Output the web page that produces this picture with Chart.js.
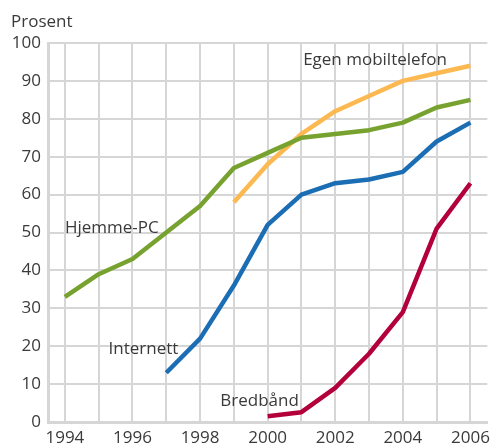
<!DOCTYPE html>
<html>
<head>
<meta charset="utf-8">
<script src="https://cdn.jsdelivr.net/npm/chart.js@4.4.0/dist/chart.umd.min.js"></script>
<style>
  html, body { margin: 0; padding: 0; background: #fff; }
  #wrap { width: 496px; height: 448px; }
</style>
</head>
<body>
<div id="wrap"><canvas id="chart" width="496" height="448"></canvas></div>
<script>
// --- DATA ---
const years = [1994, 1995, 1996, 1997, 1998, 1999, 2000, 2001, 2002, 2003, 2004, 2005, 2006];
const hjemmePc = [33, 39, 43, 50, 57, 67, 71, 75, 76, 77, 79, 83, 85];
const internett = [null, null, null, 13, 22, 36, 52, 60, 63, 64, 66, 74, 79];
const mobil = [null, null, null, null, null, 58, 68, 76, 82, 86, 90, 92, 94];
const bredband = [null, null, null, null, null, null, 1.5, 2.6, 9, 18, 29, 51, 63];
const yTicks = [0, 10, 20, 30, 40, 50, 60, 70, 80, 90, 100];

const FONT = '"Open Sans", "DejaVu Sans", sans-serif';
const TEXT = '#3a3a3a';
const GRID = '#d6d6d6';

function pts(vals) {
    return years.map((y, i) => ({ x: y, y: vals[i] })).filter(p => p.y !== null);
}

// series name labels, baseline placed at data coordinates
const seriesLabels = [
    { text: 'Egen mobiltelefon', x: 2001.05, y: 94.2 },
    { text: 'Hjemme-PC', x: 1994.0, y: 49.9 },
    { text: 'Internett', x: 1995.29, y: 17.9 },
    { text: 'Bredbånd', x: 1998.6, y: 4.2 }
];

const labelPlugin = {
    id: 'labels',
    afterDraw(chart) {
        const c = chart.ctx;
        const xs = chart.scales.x, ys = chart.scales.y;
        c.save();
        c.fillStyle = TEXT;
        c.font = '17px ' + FONT;
        c.textBaseline = 'alphabetic';
        c.textAlign = 'left';
        seriesLabels.forEach(l => c.fillText(l.text, xs.getPixelForValue(l.x), ys.getPixelForValue(l.y)));
        c.fillText('Prosent', 11, 27);
        c.restore();
    }
};

const ds = (label, data, color) => ({
    label, data: pts(data), borderColor: color, borderWidth: 4.5,
    pointRadius: 0, fill: false, tension: 0, borderCapStyle: 'butt', borderJoinStyle: 'round'
});

new Chart(document.getElementById('chart'), {
    type: 'line',
    data: {
        datasets: [
            ds('Hjemme-PC', hjemmePc, '#78a22f'),
            ds('Egen mobiltelefon', mobil, '#fdb951'),
            ds('Internett', internett, '#1b6db4'),
            ds('Bredbånd', bredband, '#b3003b')
        ]
    },
    options: {
        responsive: false,
        animation: false,
        layout: { padding: { top: 43, right: 4, left: 0, bottom: 0 } },
        plugins: { legend: { display: false }, tooltip: { enabled: false } },
        scales: {
            x: {
                type: 'linear', min: 1993.5, max: 2006.5,
                afterBuildTicks: axis => { axis.ticks = years.map(v => ({ value: v })); },
                afterFit: axis => { axis.height = 26; },
                grid: { color: GRID, lineWidth: 2, drawTicks: false },
                border: { color: GRID, width: 3 },
                ticks: {
                    color: TEXT, font: { family: FONT, size: 17 }, padding: 6,
                    maxRotation: 0, autoSkip: false,
                    callback: v => (v % 2 === 0 ? String(v) : '')
                }
            },
            y: {
                min: 0, max: 100,
                afterBuildTicks: axis => { axis.ticks = yTicks.map(v => ({ value: v })); },
                afterFit: axis => { axis.width = 48; },
                grid: { color: GRID, lineWidth: 2, drawTicks: false },
                border: { color: GRID, width: 3 },
                ticks: { color: TEXT, font: { family: FONT, size: 17 }, padding: 7 }
            }
        }
    },
    plugins: [labelPlugin]
});
</script>
</body>
</html>
